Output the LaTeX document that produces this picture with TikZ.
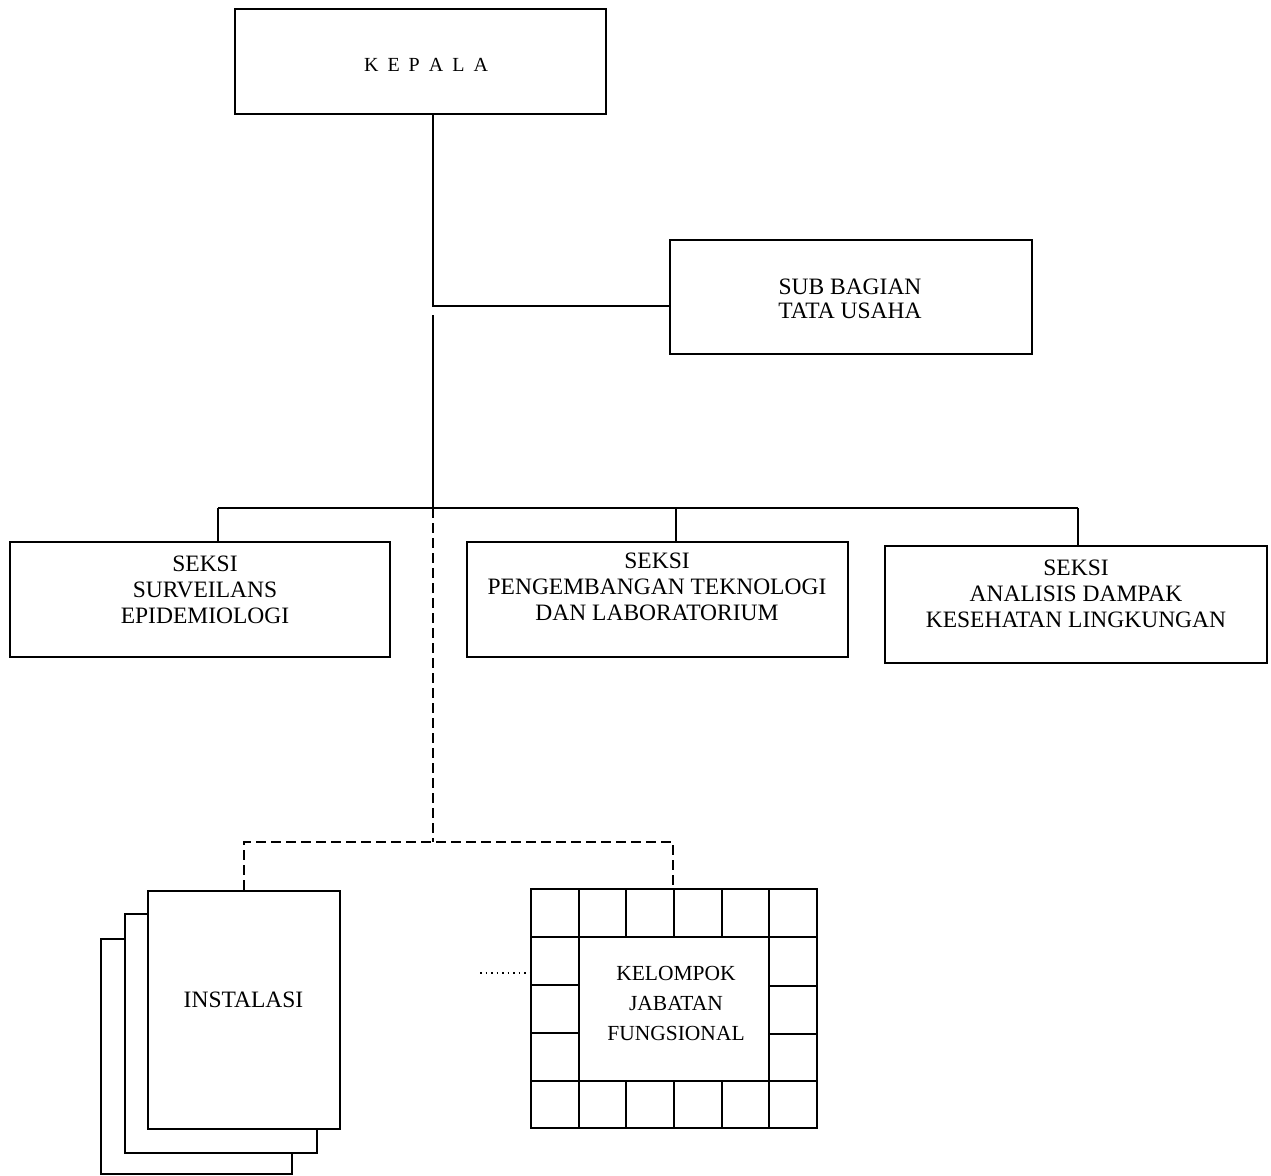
\documentclass[tikz,border=0pt]{standalone}
\usepackage{fontspec}
\setmainfont{Liberation Serif}
\begin{document}
\begin{tikzpicture}[x=1pt,y=-1pt,
  box/.style={draw, line width=2.2pt, inner sep=0pt, fill=white},
  lbl/.style={inner sep=0pt, align=center, font=\fontsize{23.5}{26}\selectfont},
  conn/.style={line width=2pt},
  dconn/.style={line width=2pt, dash pattern=on 10pt off 5pt},
  gridl/.style={line width=2.2pt},
  dotl/.style={line width=1.3pt, dash pattern=on 1.5pt off 4pt}]

\useasboundingbox (0,0) rectangle (1271,1175);

% boxes
\node[box, minimum width=371pt, minimum height=105pt] (kepala) at (420.5,61.5) {};
\node[lbl, font=\fontsize{20}{22}\selectfont] (kepalat) at (426,65)
  {K\hspace{9pt}E\hspace{9pt}P\hspace{9pt}A\hspace{9pt}L\hspace{9pt}A};

\node[box, minimum width=362pt, minimum height=114pt] (subbag) at (851,297) {};
\node[lbl, font=\fontsize{23.5}{24}\selectfont] (subbagt) at (850,299) {SUB BAGIAN\\TATA USAHA};

\node[box, minimum width=380pt, minimum height=115pt] (s1) at (200,599.5) {};
\node[lbl] (s1t) at (205,590) {SEKSI\\SURVEILANS\\EPIDEMIOLOGI};

\node[box, minimum width=381pt, minimum height=115pt] (s2) at (657.5,599.5) {};
\node[lbl] (s2t) at (657,587) {SEKSI\\PENGEMBANGAN TEKNOLOGI\\DAN LABORATORIUM};

\node[box, minimum width=382pt, minimum height=117pt] (s3) at (1076,604.5) {};
\node[lbl] (s3t) at (1076,594) {SEKSI\\ANALISIS DAMPAK\\KESEHATAN LINGKUNGAN};

% stacked instalasi
\node[box, minimum width=191pt, minimum height=235pt] (inst3) at (196.5,1056.5) {};
\node[box, minimum width=192pt, minimum height=239pt] (inst2) at (221,1033.5) {};
\node[box, minimum width=192pt, minimum height=238pt] (inst) at (244,1010) {};
\node[lbl] (instt) at (243.5,1000) {INSTALASI};

% kelompok jabatan fungsional grid
\node[box, minimum width=286pt, minimum height=239pt] (kjf) at (674,1008.5) {};
\foreach \i in {1,...,5} {
  \draw[gridl] ({531+\i*47.667},889) -- ({531+\i*47.667},937);
  \draw[gridl] ({531+\i*47.667},1081) -- ({531+\i*47.667},1128);
}
\draw[gridl] (531,937) -- (817,937);
\draw[gridl] (531,1081) -- (817,1081);
\draw[gridl] (578.667,937) -- (578.667,1081);
\draw[gridl] (769.333,937) -- (769.333,1081);
\draw[gridl] (531,985) -- (578.667,985);
\draw[gridl] (531,1033) -- (578.667,1033);
\draw[gridl] (769.333,986) -- (817,986);
\draw[gridl] (769.333,1034) -- (817,1034);
\node[lbl, font=\fontsize{21.5}{30}\selectfont] (kjft) at (676,1003) {KELOMPOK\\JABATAN\\FUNGSIONAL};

% connectors
\coordinate (jt) at (433,306);
\draw[conn] (kepala.south -| jt) -- (jt) -- (subbag.west |- jt);

\coordinate (sp) at (433,315);
\coordinate (br) at (433,508);
\draw[conn] (sp) -- (br);

\coordinate (b1) at (218,508);
\coordinate (b2) at (676,508);
\coordinate (b3) at (1078,508);
\draw[conn] (b1) -- (b3);
\draw[conn] (b1) -- (s1.north -| b1);
\draw[conn] (b2) -- (s2.north -| b2);
\draw[conn] (b3) -- (s3.north -| b3);

\coordinate (dj) at (433,842);
\coordinate (dr) at (673,842);
\draw[dconn] (br) -- (dj);
\draw[dconn] (inst.north) |- (dr) -- (kjf.north -| dr);

\coordinate (dot) at (480,973);
\draw[dotl] (dot) -- (kjf.west |- dot);

\end{tikzpicture}
\end{document}
